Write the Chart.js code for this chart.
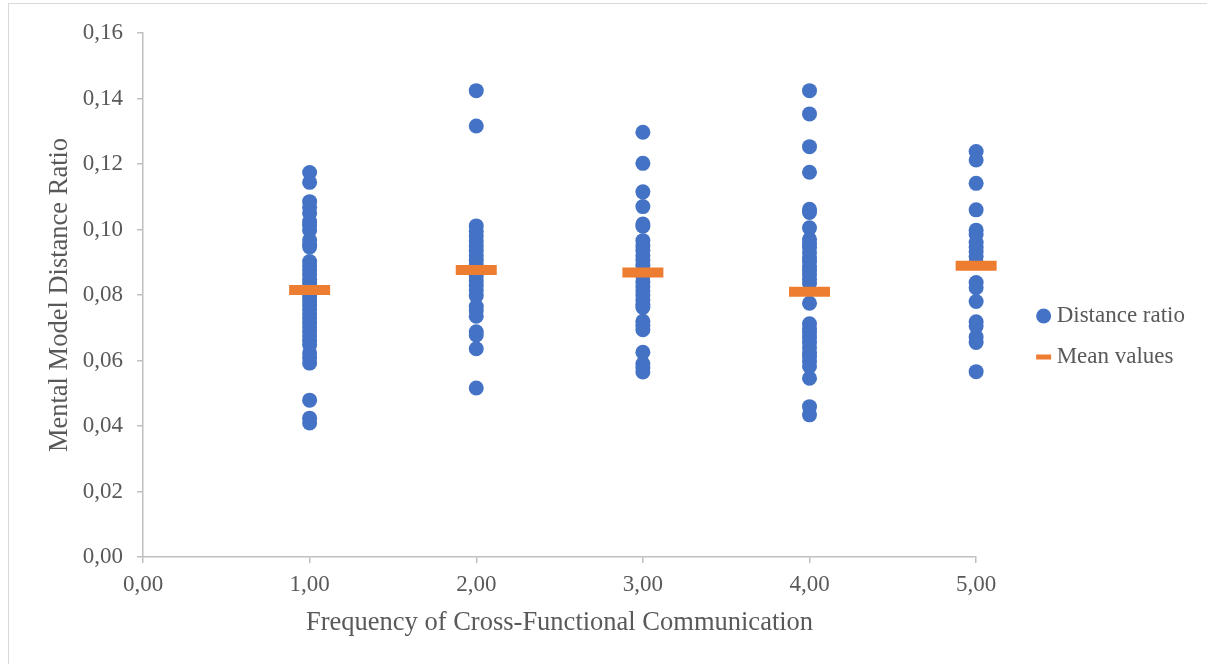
<!DOCTYPE html>
<html>
<head>
<meta charset="utf-8">
<script src="https://cdn.jsdelivr.net/npm/chart.js"></script>
<style>
  html, body { margin: 0; padding: 0; background: #fff; overflow: hidden; }
  #frame { position: absolute; left: 8px; top: 3px; width: 1400px; height: 900px; border: 1.5px solid #d9d9d9; }
  #wrap { position: absolute; left: 0; top: 0; width: 1207px; height: 664px; }
</style>
</head>
<body>
<div id="frame"></div>
<div id="wrap"><canvas id="scatter-chart"></canvas></div>
<script>
const frequencies = [1, 2, 3, 4, 5]

const group1 = [0.1174, 0.1144, 0.1085, 0.1068, 0.105, 0.1024, 0.1012, 0.0998, 0.0968, 0.0955, 0.0947,
  0.0902, 0.0889, 0.0875, 0.0862, 0.0848, 0.0835, 0.0822, 0.0808, 0.0795, 0.0782, 0.0768, 0.0755,
  0.0742, 0.0728, 0.0715, 0.0702, 0.0688, 0.0675, 0.0662, 0.0648, 0.0623, 0.0608, 0.0592,
  0.0479, 0.0424, 0.0409]
const group2 = [0.1424, 0.1316, 0.1011, 0.0995, 0.098, 0.0965, 0.095, 0.0935, 0.092, 0.0905, 0.089,
  0.0875, 0.0858, 0.0843, 0.083, 0.0815, 0.0798, 0.0765, 0.0752, 0.0735, 0.0688, 0.0678, 0.0636, 0.0516]
const group3 = [0.1297, 0.1202, 0.1115, 0.107, 0.1017, 0.101, 0.0966, 0.095, 0.0937, 0.092, 0.0905,
  0.089, 0.0858, 0.084, 0.0825, 0.0812, 0.08, 0.0785, 0.0772, 0.0762, 0.072, 0.0708, 0.0694,
  0.0625, 0.059, 0.0578, 0.0565]
const group4 = [0.1424, 0.1353, 0.1253, 0.1175, 0.1062, 0.1052, 0.1005, 0.097, 0.0958, 0.0945, 0.093,
  0.0915, 0.0902, 0.0888, 0.0875, 0.0862, 0.0848, 0.0836, 0.0775, 0.0712, 0.0698, 0.0685, 0.067,
  0.0655, 0.064, 0.0625, 0.0612, 0.0598, 0.0582, 0.0546, 0.0459, 0.0434]
const group5 = [0.1238, 0.1212, 0.1141, 0.106, 0.0998, 0.0985, 0.096, 0.0945, 0.0932, 0.0918, 0.09,
  0.0838, 0.0822, 0.078, 0.0718, 0.0705, 0.0672, 0.0655, 0.0566]

const meanValues = [0.0815, 0.0876, 0.0869, 0.081, 0.0889]

const xTicks = [0, 1, 2, 3, 4, 5]
const yTicks = [0, 0.02, 0.04, 0.06, 0.08, 0.1, 0.12, 0.14, 0.16]

const groups = [group1, group2, group3, group4, group5]
const ratioPoints = []
groups.forEach((g, i) => g.forEach(v => ratioPoints.push({ x: frequencies[i], y: v })))
const meanPoints = meanValues.map((v, i) => ({ x: frequencies[i], y: v }))

const serif = "'Liberation Serif', 'Times New Roman', serif"
const grey = '#595959'
const axisGrey = '#bfbfbf'
const comma = (v, d) => v.toFixed(d).replace('.', ',')

const data = {
  datasets: [
    {
      label: 'Distance ratio',
      data: ratioPoints,
      backgroundColor: '#4472C4',
      borderColor: '#4472C4',
      pointRadius: 7.5,
      pointHoverRadius: 7.5,
      pointBorderWidth: 0,
      clip: false,
      order: 1,
    },
    {
      label: 'Mean values',
      data: meanPoints,
      backgroundColor: '#ED7D31',
      borderColor: '#ED7D31',
      pointStyle: 'line',
      pointRadius: 20.5,
      pointHoverRadius: 20.5,
      pointBorderWidth: 10,
      clip: false,
      order: 0,
    },
  ],
}

const config = {
  type: 'scatter',
  data: data,
  options: {
    responsive: true,
    maintainAspectRatio: false,
    animation: false,
    layout: { padding: { top: 33, bottom: 24, left: 0, right: 12 } },
    plugins: {
      tooltip: { enabled: false },
      legend: {
        position: 'right',
        align: 'center',
        labels: {
          usePointStyle: true,
          boxWidth: 3,
          boxHeight: 10.6,
          padding: 18,
          color: grey,
          font: { family: serif, size: 23 },
          sort: (a, b) => a.datasetIndex - b.datasetIndex,
          generateLabels: chart => {
            const items = Chart.defaults.plugins.legend.labels.generateLabels(chart)
            items.forEach(it => { it.lineWidth = it.pointStyle === 'line' ? 5 : 0 })
            return items
          },
        },
      },
    },
    scales: {
      x: {
        type: 'linear',
        min: 0,
        max: 5,
        afterBuildTicks: s => { s.ticks = xTicks.map(v => ({ value: v })) },
        afterFit: s => { s.height = 83 },
        ticks: {
          color: grey,
          padding: 8,
          font: { family: serif, size: 23 },
          callback: v => comma(v, 2),
        },
        grid: { drawOnChartArea: false, drawTicks: true, tickLength: 6, color: axisGrey, lineWidth: 1.5 },
        border: { color: axisGrey, width: 1.5 },
        title: {
          display: true,
          text: 'Frequency of Cross-Functional Communication',
          color: grey,
          font: { family: serif, size: 26.5 },
          padding: { top: 0, bottom: 1 },
        },
      },
      y: {
        type: 'linear',
        min: 0,
        max: 0.16,
        afterBuildTicks: s => { s.ticks = yTicks.map(v => ({ value: v })) },
        afterFit: s => { s.width = 143 },
        ticks: {
          color: grey,
          padding: 14,
          font: { family: serif, size: 23 },
          callback: v => comma(v, 2),
        },
        grid: { drawOnChartArea: false, drawTicks: true, tickLength: 6, color: axisGrey, lineWidth: 1.5 },
        border: { color: axisGrey, width: 1.5 },
        title: {
          display: true,
          text: 'Mental Model Distance Ratio',
          color: grey,
          font: { family: serif, size: 26.5 },
          padding: { top: 44, bottom: 0 },
        },
      },
      gap: {
        type: 'linear',
        position: 'right',
        display: true,
        ticks: { display: false },
        grid: { display: false },
        border: { display: false },
        afterFit: s => { s.width = 48 },
      },
    },
  },
}

const scatter_chart = document.getElementById('scatter-chart')
const chart = new Chart(scatter_chart, config)
</script>
</body>
</html>
